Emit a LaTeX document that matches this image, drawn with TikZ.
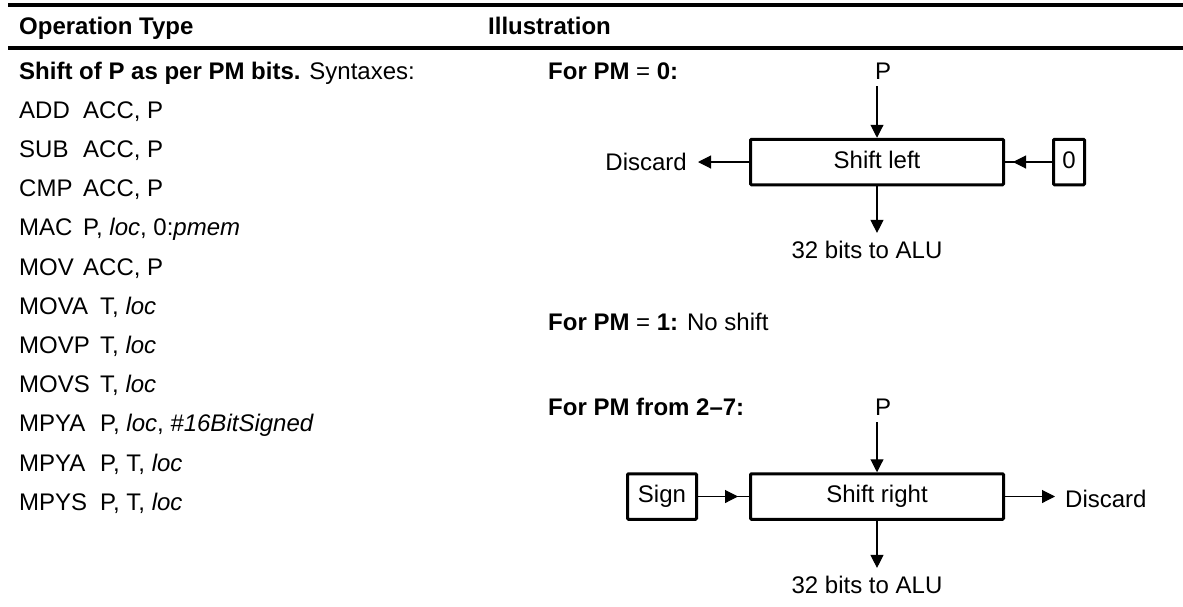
\documentclass[tikz,border=0pt]{standalone}
\usepackage{fontspec}
\setmainfont{Liberation Sans}
\usetikzlibrary{arrows.meta}
\begin{document}
\begin{tikzpicture}[x=1pt,y=-1pt,
  txt/.style={inner sep=0pt, anchor=base west, font=\fontsize{24}{28}\selectfont},
  lbl/.style={inner sep=0pt, font=\fontsize{24}{28}\selectfont},
  shiftbox/.style={draw, line width=3pt, inner sep=0pt, minimum height=45.5pt,
    rounded corners=1pt, text height=17.5pt, text depth=5pt,
    font=\fontsize{24}{28}\selectfont},
  conn/.style={line width=1.1pt, -{Triangle[length=13pt,width=13pt]}},
  wire/.style={line width=1.1pt},
  rule/.style={line width=4pt}]
% page frame
\useasboundingbox (0,0) rectangle (1183,606);

% table rules and headings
\coordinate (r1a) at (8,5);   \coordinate (r1b) at (1183,5);
\coordinate (r2a) at (8,48);  \coordinate (r2b) at (1183,48);
\draw[rule] (r1a) -- (r1b);
\draw[rule, line width=3.6pt] (r2a) -- (r2b);
\node[txt, font=\fontsize{24}{28}\selectfont\bfseries] (hop) at (19,34) {Operation Type};
\node[txt, font=\fontsize{24}{28}\selectfont\bfseries] (hill) at (488,34) {Illustration};

% left column: syntaxes
\newcommand{\opA}[1]{\makebox[64pt][l]{#1}}
\newcommand{\opB}[1]{\makebox[81pt][l]{#1}}
\foreach \t [count=\i from 0] in {
  {\textbf{Shift of P as per PM bits.} Syntaxes:},
  {\opA{ADD}ACC, P},
  {\opA{SUB}ACC, P},
  {\opA{CMP}ACC, P},
  {\opA{MAC}P, \textit{loc}, 0:\textit{pmem}},
  {\opA{MOV}ACC, P},
  {\opB{MOVA}T, \textit{loc}},
  {\opB{MOVP}T, \textit{loc}},
  {\opB{MOVS}T, \textit{loc}},
  {\opB{MPYA}P, \textit{loc}, \textit{\#16BitSigned}},
  {\opB{MPYA}P, T, \textit{loc}},
  {\opB{MPYS}P, T, \textit{loc}}}
  \node[txt] (syn\i) at (19,{79+39.2*\i}) {\t};

% PM = 0: shift left
\node[txt] (pm0) at (548,79) {\textbf{For PM} = \textbf{0:}};
\node[txt] (p1) at (875,79) {P};
\node[shiftbox, minimum width=253pt] (sl) at (877,162) {Shift left};
\node[shiftbox, minimum width=31pt] (zero) at (1069,162) {0};
\node[lbl, anchor=base east] (discL) at (687,170) {Discard};
\node[lbl, anchor=base] (alu1) at (867,258) {32 bits to ALU};
\draw[conn, shorten <=7pt] (sl.north |- p1.south) -- (sl.north);
\draw[conn, shorten >=7.5pt] (sl.south) -- (sl.south |- alu1.north);
\draw[conn, shorten >=11pt] (sl.west) -- (sl.west -| discL.east);
\draw[wire] (zero.west) -- (sl.east);
\draw[conn, shorten >=8pt] (zero.west) -- (sl.east);

% PM = 1
\node[txt] (pm1) at (548,330) {\textbf{For PM} = \textbf{1:} No shift};

% PM = 2..7: shift right
\node[txt] (pm2) at (548,415) {\textbf{For PM from 2--7:}};
\node[txt] (p2) at (875,415) {P};
\node[shiftbox, minimum width=253pt] (sr) at (877,496.5) {Shift right};
\node[shiftbox, minimum width=69pt] (sign) at (662,496.5) {Sign};
\node[lbl, anchor=base west] (discR) at (1065,507) {Discard};
\node[lbl, anchor=base] (alu2) at (867,593) {32 bits to ALU};
\draw[conn, shorten <=7pt] (sr.north |- p2.south) -- (sr.north);
\draw[conn, shorten >=7.5pt] (sr.south) -- (sr.south |- alu2.north);
\draw[conn, shorten >=10pt] (sr.east) -- (sr.east -| discR.west);
\draw[wire] (sign.east) -- (sr.west);
\draw[conn, shorten >=11pt] (sign.east) -- (sr.west);
\end{tikzpicture}
\end{document}
